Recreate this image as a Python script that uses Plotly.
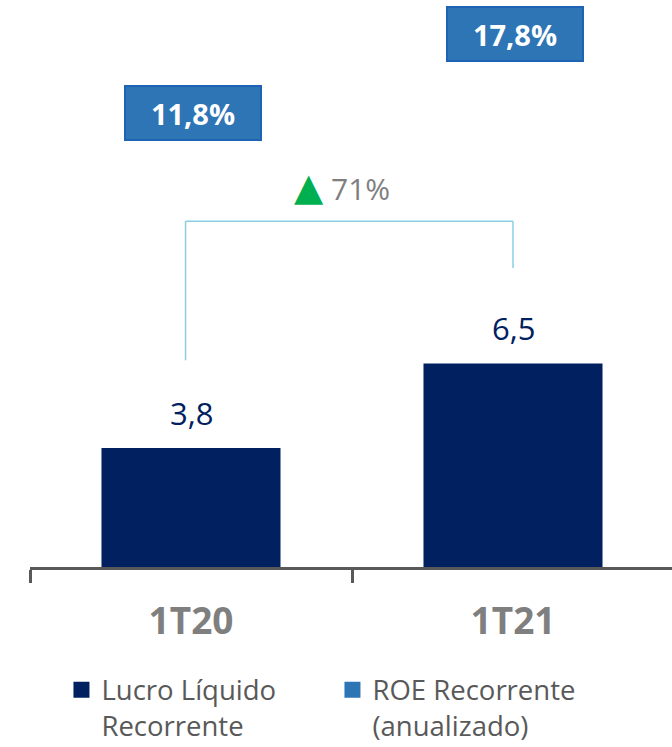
import plotly.graph_objects as go

categories = ["1T20", "1T21"]
lucro = [3.8, 6.5]
roe = [11.8, 17.8]
lucro_name = "Lucro Líquido<br>Recorrente"
roe_name = "ROE Recorrente<br>(anualizado)"

NAVY = "#002060"
BLUE = "#2E75B6"
GRAY = "#7F7F7F"
DARKGRAY = "#595959"
FONT = "Open Sans, Noto Sans, DejaVu Sans, sans-serif"


def fmt(v, d=1):
    return f"{v:.{d}f}".replace(".", ",")


fig = go.Figure()

fig.add_trace(go.Bar(
    x=categories, y=lucro, marker=dict(color=NAVY, line=dict(width=0)),
    showlegend=False, name="Lucro", hoverinfo="skip",
))
# legend entries
fig.add_trace(go.Scatter(
    x=[None], y=[None], mode="markers", name=lucro_name,
    marker=dict(symbol="square", size=16, color=NAVY),
))
fig.add_trace(go.Scatter(
    x=categories, y=roe, yaxis="y2", mode="markers", name=roe_name,
    marker=dict(symbol="square", size=16, color=BLUE), hoverinfo="skip",
))

annotations = []
# bar value labels
for c, v in zip(categories, lucro):
    annotations.append(dict(
        x=c, y=v, xref="x", yref="y", text=fmt(v), showarrow=False,
        yanchor="bottom", yshift=12,
        font=dict(family=FONT, size=31, color=NAVY),
    ))
# ROE boxes
for c, v in zip(categories, roe):
    annotations.append(dict(
        x=c, y=v, xref="x", yref="y2", text=f"<b>{fmt(v)}%</b>", showarrow=False,
        xanchor="center", yanchor="middle", xshift=2,
        width=134, height=52, borderpad=0, borderwidth=2,
        bgcolor=BLUE, bordercolor="#1F63B4",
        font=dict(family=FONT, size=29, color="white"),
    ))

# growth bracket
growth = round((lucro[1] / lucro[0] - 1) * 100)
top = max(lucro) + 4.54
shapes = []
lc = dict(color="#8CCDE6", width=1.5)
shapes.append(dict(type="line", xref="x", yref="y", x0=-0.017, x1=-0.017,
                   y0=lucro[0] + 2.8, y1=top, line=lc))
shapes.append(dict(type="line", xref="x", yref="y", x0=-0.017, x1=1.0,
                   y0=top, y1=top, line=lc))
shapes.append(dict(type="line", xref="x", yref="y", x0=1.0, x1=1.0,
                   y0=top, y1=lucro[1] + 3.05, line=lc))
annotations.append(dict(
    x=0.47, y=top + 1.15, xref="x", yref="y",
    text=f"<span style='color:#00B050;font-size:38px'>▲</span> {growth}%",
    showarrow=False, yanchor="middle",
    font=dict(family=FONT, size=30, color=GRAY),
))

fig.update_layout(
    width=672, height=747,
    margin=dict(l=30, r=0, t=0, b=180, autoexpand=False),
    plot_bgcolor="white", paper_bgcolor="white",
    separators=",.",
    bargap=0.444,
    hovermode=False,
    font=dict(family=FONT, color=DARKGRAY),
    xaxis=dict(
        type="category", categoryorder="array", categoryarray=categories,
        range=[-0.5, 1.4938], showline=True, linecolor=DARKGRAY, linewidth=2.5,
        ticks="outside", tickson="boundaries", ticklen=13, tickwidth=2.5,
        tickcolor=DARKGRAY, showgrid=False, zeroline=False, automargin=False,
        tickfont=dict(family=FONT, size=37, color=GRAY),
        ticklabelstandoff=20,
        tickprefix="<b>", ticksuffix="</b>",
    ),
    yaxis=dict(range=[0, 18.11], visible=False, showgrid=False, zeroline=False,
               automargin=False),
    yaxis2=dict(range=[-22.46, 20.33], overlaying="y", visible=False,
                showgrid=False, zeroline=False, automargin=False),
    legend=dict(
        orientation="h", x=0.049, xanchor="left", y=-0.1735, yanchor="top",
        font=dict(family=FONT, size=27.5, color=DARKGRAY),
        valign="top", entrywidth=226, bgcolor="rgba(0,0,0,0)",
        itemclick=False, itemdoubleclick=False,
    ),
    annotations=annotations,
    shapes=shapes,
)

fig.write_html(
    "out.html",
    config={"displayModeBar": False},
    post_script="document.body.style.margin='0';document.body.style.overflow='hidden';",
)
